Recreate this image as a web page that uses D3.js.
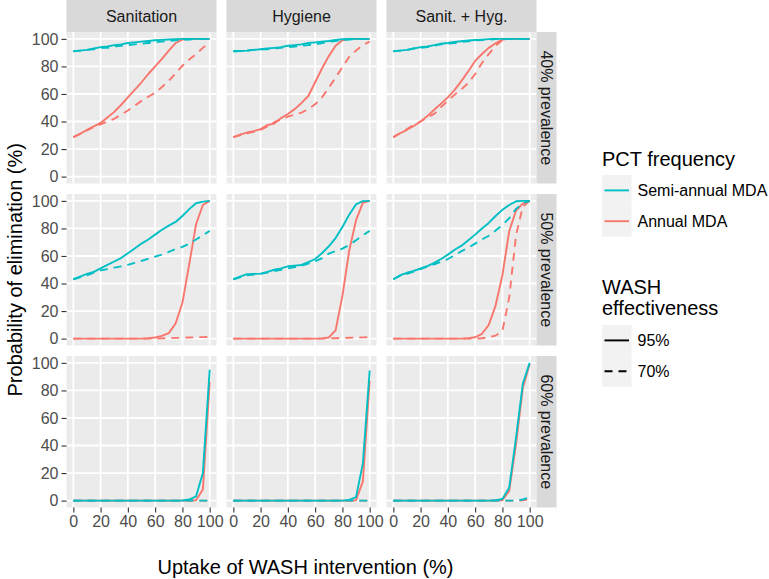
<!DOCTYPE html>
<html>
<head>
<meta charset="utf-8">
<script src="https://cdn.jsdelivr.net/npm/d3@7"></script>
<style>
  html, body { margin: 0; padding: 0; background: #ffffff; }
  svg { display: block; font-family: "Liberation Sans", Arial, Helvetica, sans-serif; }
</style>
</head>
<body>
<svg id="chart" width="769" height="579"></svg>
<script>
// ---------------- DATA ----------------
const columns = ["Sanitation", "Hygiene", "Sanit. + Hyg."];
const rows = ["40% prevalence", "50% prevalence", "60% prevalence"];
const uptake = [0,5,10,15,20,25,30,35,40,45,50,55,60,65,70,75,80,85,90,95,100];
const xTicks = [0,20,40,60,80,100];
const yTicks = [0,20,40,60,80,100];
const frequencyLabels = ["Semi-annual MDA", "Annual MDA"];
const effectivenessLabels = ["95%", "70%"];

// 40% prevalence
const san40_semi95 = [91,91.5,92,93,94,94.5,95.5,96,97,97.5,98,98.5,99,99.3,99.6,99.8,100,100,100,100,100];
const san40_semi70 = [91,91.5,92,92.5,93.5,93.5,94.5,95,95.5,96,96.5,97,97.5,98,98.5,99,99.3,99.6,99.8,100,100];
const san40_ann95  = [28.7,31,34,36.5,39,43,47,52,57.5,63,68.5,74.5,80,85.5,91.5,97,99.5,100,100,100,100];
const san40_ann70  = [28.7,31,33.5,36,38,40,42,45,48,51.5,55,58,61,65,69.5,75,80.5,85,89,93.5,97.5];

const hyg40_semi95 = [91,91.2,91.5,92,92.5,93,93.5,94,95,95.5,96,97,97.5,98,98.5,99.3,99.7,100,100,100,100];
const hyg40_semi70 = [91,91.2,91.5,92,92.5,92.5,93,93.5,94,94.5,95,95.5,96,97,98,98.5,99,99.5,99.8,100,100];
const hyg40_ann95  = [28.7,30.5,32,33,34.5,37.5,38.5,42.5,45.5,49,53.5,58.5,68.5,78.5,87.5,95,99,100,100,100,100];
const hyg40_ann70  = [28.7,30,31.5,32.5,34,36.5,39.5,41.5,43.5,45,46.5,49,52.5,57.5,64.5,72,79.5,87,91.5,95.5,98];

const sh40_semi95  = [91,91.5,92,93,94,94.5,95.5,96.5,97,97.8,98.3,98.8,99.2,99.5,99.8,100,100,100,100,100,100];
const sh40_semi70  = [91,91.5,92,93,93.5,94,95,96,96.5,97,97.8,98.3,98.8,99.2,99.5,99.8,100,100,100,100,100];
const sh40_ann95   = [28.7,31.5,34,36.8,40,44,48.5,53,57.5,63,69.5,76.5,84,89,93.5,96.8,99.5,100,100,100,100];
const sh40_ann70   = [28.7,31.5,34.5,37.5,40,43,45.5,50.5,55,59.5,63.5,68,74.5,82.5,89,95,99,100,100,100,100];

// 50% prevalence
const san50_semi95 = [43.1,45,47,48.5,51,53.5,56,58.5,62,65.5,69,72,75.5,79,82,84.7,89,94,98.3,99.5,100];
const san50_semi70 = [43.1,44.5,46,48,49.5,50.5,51.5,52.5,53.5,55,56.5,58,59.5,61,63,65,66.6,69,72,75,78.2];
const san50_ann95  = [0,0,0,0,0,0,0,0,0,0,0,0.3,0.8,2,4,11,26,54,83,97,100];
const san50_ann70  = [0,0,0,0,0,0,0,0,0,0,0,0,0,0.2,0.3,0.5,0.6,0.8,1,1.1,1.2];

const hyg50_semi95 = [43.1,45,46.8,47,47.2,48.5,50,51,52.5,53,53.5,55.5,57.8,62,67,73,81,90,97.5,99.8,100];
const hyg50_semi70 = [43.1,44.5,46,46.5,47,48,49,50,51,52,53,54.5,56,58.5,61.7,63.5,65.4,68,71.4,75,78.2];
const hyg50_ann95  = [0,0,0,0,0,0,0,0,0,0,0,0,0,0.2,0.8,6,31,64,86,98.5,100];
const hyg50_ann70  = [0,0,0,0,0,0,0,0,0,0,0,0,0,0,0.2,0.3,0.5,0.6,0.8,0.9,1];

const sh50_semi95  = [43.1,46,47.8,49.2,50.9,52.7,55,57.8,61,64.5,67.5,71.5,75.5,80,84,89,93.5,97,99.7,100,100];
const sh50_semi70  = [43.1,45.5,47,48.7,50.5,52.5,54,55.8,57.8,60.5,63.5,66,69,72,74.7,78.5,82.5,87.5,94.2,98.5,100];
const sh50_ann95   = [0,0,0,0,0,0,0,0,0,0,0,0.3,1,3.5,10,24,46,78,93,98,100];
const sh50_ann70   = [0,0,0,0,0,0,0,0,0,0,0,0,0,0.3,1,2.2,5.5,30,75,96,100];

// 60% prevalence
const san60_semi95 = [0,0,0,0,0,0,0,0,0,0,0,0,0,0,0,0,0.1,0.8,3,20,95];
const san60_semi70 = [0,0,0,0,0,0,0,0,0,0,0,0,0,0,0,0,0,0,0,0,0];
const san60_ann95  = [0,0,0,0,0,0,0,0,0,0,0,0,0,0,0,0,0,0,0.3,8,86];
const san60_ann70  = [0,0,0,0,0,0,0,0,0,0,0,0,0,0,0,0,0,0,0,0,0];

const hyg60_semi95 = [0,0,0,0,0,0,0,0,0,0,0,0,0,0,0,0,0,0.5,2.5,27,94.5];
const hyg60_semi70 = [0,0,0,0,0,0,0,0,0,0,0,0,0,0,0,0,0,0,0,0,0];
const hyg60_ann95  = [0,0,0,0,0,0,0,0,0,0,0,0,0,0,0,0,0,0,0.3,14,87];
const hyg60_ann70  = [0,0,0,0,0,0,0,0,0,0,0,0,0,0,0,0,0,0,0,0,0];

const sh60_semi95  = [0,0,0,0,0,0,0,0,0,0,0,0,0,0,0,0.3,1.2,9.5,46,85,100];
const sh60_semi70  = [0,0,0,0,0,0,0,0,0,0,0,0,0,0,0,0,0,0,0,0.8,2.5];
const sh60_ann95   = [0,0,0,0,0,0,0,0,0,0,0,0,0,0,0,0,0.3,7,41,82,99];
const sh60_ann70   = [0,0,0,0,0,0,0,0,0,0,0,0,0,0,0,0,0,0,0,0.2,1];

// table built from the arrays: [row][col] -> {ann95, ann70, semi95, semi70}
const panelSeries = [
  [ {ann95: san40_ann95, ann70: san40_ann70, semi95: san40_semi95, semi70: san40_semi70},
    {ann95: hyg40_ann95, ann70: hyg40_ann70, semi95: hyg40_semi95, semi70: hyg40_semi70},
    {ann95: sh40_ann95,  ann70: sh40_ann70,  semi95: sh40_semi95,  semi70: sh40_semi70} ],
  [ {ann95: san50_ann95, ann70: san50_ann70, semi95: san50_semi95, semi70: san50_semi70},
    {ann95: hyg50_ann95, ann70: hyg50_ann70, semi95: hyg50_semi95, semi70: hyg50_semi70},
    {ann95: sh50_ann95,  ann70: sh50_ann70,  semi95: sh50_semi95,  semi70: sh50_semi70} ],
  [ {ann95: san60_ann95, ann70: san60_ann70, semi95: san60_semi95, semi70: san60_semi70},
    {ann95: hyg60_ann95, ann70: hyg60_ann70, semi95: hyg60_semi95, semi70: hyg60_semi70},
    {ann95: sh60_ann95,  ann70: sh60_ann70,  semi95: sh60_semi95,  semi70: sh60_semi70} ]
];

// ---------------- STYLE / LAYOUT ----------------
const colSemi = "#00BFC4", colAnn = "#F8766D";
const dashPattern = "8,6";
const panelW = 150, panelH = 151.5;
const left0 = 66.5, top0 = 32, hGap = 10, vGap = 10.5;
const stripH = 32, stripRW = 20;
const lineW = 1.9;
const fontFam = "'Liberation Sans', Arial, Helvetica, sans-serif";

const svg = d3.select("#chart");

const x = d3.scaleLinear().domain([-5, 105]).range([0, panelW]);
const y = d3.scaleLinear().domain([-5, 105]).range([panelH, 0]);

const line = d3.line().x(d => x(d[0])).y(d => y(d[1]));

const seriesOrder = [
  {key: "ann95",  color: colAnn,  dash: null},
  {key: "ann70",  color: colAnn,  dash: dashPattern},
  {key: "semi95", color: colSemi, dash: null},
  {key: "semi70", color: colSemi, dash: dashPattern}
];

rows.forEach((rowLab, r) => {
  columns.forEach((colLab, c) => {
    const px = left0 + c * (panelW + hGap);
    const py = top0 + r * (panelH + vGap);
    const g = svg.append("g").attr("transform", `translate(${px},${py})`);
    g.append("rect").attr("width", panelW).attr("height", panelH).attr("fill", "#EBEBEB");
    // grid
    g.selectAll(".gx").data(xTicks).enter().append("line")
      .attr("x1", d => x(d)).attr("x2", d => x(d)).attr("y1", 0).attr("y2", panelH)
      .attr("stroke", "#FFFFFF").attr("stroke-width", 1.8);
    g.selectAll(".gy").data(yTicks).enter().append("line")
      .attr("y1", d => y(d)).attr("y2", d => y(d)).attr("x1", 0).attr("x2", panelW)
      .attr("stroke", "#FFFFFF").attr("stroke-width", 1.8);
    // lines
    const ps = panelSeries[r][c];
    seriesOrder.forEach(s => {
      const pts = uptake.map((u, i) => [u, ps[s.key][i]]);
      g.append("path").datum(pts).attr("d", line)
        .attr("fill", "none").attr("stroke", s.color).attr("stroke-width", lineW)
        .attr("stroke-linejoin", "round")
        .attr("stroke-dasharray", s.dash);
    });
    // y axis on first column
    if (c === 0) {
      const ay = g.append("g").call(d3.axisLeft(y).tickValues(yTicks).tickSize(5).tickPadding(3).tickSizeOuter(0));
      ay.select(".domain").remove();
      ay.selectAll(".tick line").attr("stroke", "#333333").attr("stroke-width", 1.1);
      ay.selectAll(".tick text").attr("fill", "#4D4D4D").style("font-size", "16px")
        .style("font-family", fontFam);
    }
    // x axis on last row
    if (r === rows.length - 1) {
      const ax = g.append("g").attr("transform", `translate(0,${panelH})`)
        .call(d3.axisBottom(x).tickValues(xTicks).tickSize(5).tickPadding(3).tickSizeOuter(0));
      ax.select(".domain").remove();
      ax.selectAll(".tick line").attr("stroke", "#333333").attr("stroke-width", 1.1);
      ax.selectAll(".tick text").attr("fill", "#4D4D4D").style("font-size", "16px")
        .style("font-family", fontFam);
    }
    // top strips
    if (r === 0) {
      svg.append("rect").attr("x", px).attr("y", top0 - stripH).attr("width", panelW).attr("height", stripH).attr("fill", "#D9D9D9");
      svg.append("text").attr("x", px + panelW / 2).attr("y", top0 - stripH / 2)
        .attr("text-anchor", "middle").attr("dominant-baseline", "central")
        .attr("fill", "#1A1A1A").style("font-size", "16px").text(colLab);
    }
    // right strips
    if (c === columns.length - 1) {
      const sx = px + panelW;
      svg.append("rect").attr("x", sx).attr("y", py).attr("width", stripRW).attr("height", panelH).attr("fill", "#D9D9D9");
      svg.append("text").attr("transform", `translate(${sx + stripRW / 2},${py + panelH / 2}) rotate(90)`)
        .attr("text-anchor", "middle").attr("dominant-baseline", "central")
        .attr("fill", "#1A1A1A").style("font-size", "16px").text(rowLab);
    }
  });
});

// axis titles
const panelsRight = left0 + 3 * panelW + 2 * hGap;
const panelsBottom = top0 + 3 * panelH + 2 * vGap;
svg.append("text").attr("x", (left0 + panelsRight) / 2 + 4).attr("y", 574)
  .attr("text-anchor", "middle").attr("fill", "#000").style("font-size", "20px")
  .text("Uptake of WASH intervention (%)");
svg.append("text").attr("transform", `translate(22,${(top0 + panelsBottom) / 2}) rotate(-90)`)
  .attr("text-anchor", "middle").attr("fill", "#000").style("font-size", "20px")
  .text("Probability of elimination (%)");

// legends
const legX = 602;
const keyW = 29.5, keyH = 30.8;
const lg1 = svg.append("g");
lg1.append("text").attr("x", legX).attr("y", 166).style("font-size", "20px").attr("fill", "#000").text("PCT frequency");
const freqColors = [colSemi, colAnn];
frequencyLabels.forEach((lab, i) => {
  const ky = 175 + i * keyH;
  lg1.append("rect").attr("x", legX).attr("y", ky).attr("width", keyW).attr("height", keyH).attr("fill", "#F2F2F2");
  lg1.append("line").attr("x1", legX + 2.5).attr("x2", legX + keyW - 2.5).attr("y1", ky + keyH / 2).attr("y2", ky + keyH / 2)
    .attr("stroke", freqColors[i]).attr("stroke-width", lineW);
  lg1.append("text").attr("x", legX + keyW + 6).attr("y", ky + keyH / 2).attr("dominant-baseline", "central")
    .style("font-size", "16px").attr("fill", "#000").text(lab);
});

const lg2 = svg.append("g");
lg2.append("text").attr("x", legX).attr("y", 294).style("font-size", "20px").attr("fill", "#000").text("WASH");
lg2.append("text").attr("x", legX).attr("y", 315).style("font-size", "20px").attr("fill", "#000").text("effectiveness");
const effDash = [null, dashPattern];
effectivenessLabels.forEach((lab, i) => {
  const ky = 325 + i * keyH;
  lg2.append("rect").attr("x", legX).attr("y", ky).attr("width", keyW).attr("height", keyH).attr("fill", "#F2F2F2");
  lg2.append("line").attr("x1", legX + 2.5).attr("x2", legX + keyW - 2.5).attr("y1", ky + keyH / 2).attr("y2", ky + keyH / 2)
    .attr("stroke", "#000000").attr("stroke-width", lineW).attr("stroke-dasharray", effDash[i]);
  lg2.append("text").attr("x", legX + keyW + 6).attr("y", ky + keyH / 2).attr("dominant-baseline", "central")
    .style("font-size", "16px").attr("fill", "#000").text(lab);
});
</script>
</body>
</html>
